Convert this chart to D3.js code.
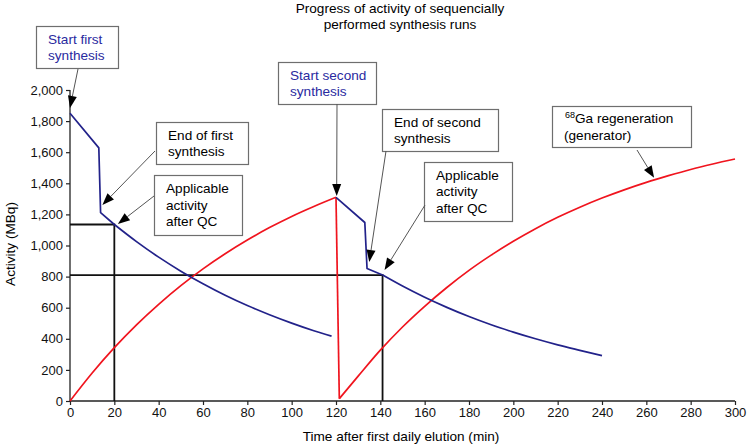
<!DOCTYPE html>
<html>
<head>
<meta charset="utf-8">
<script src="https://cdn.jsdelivr.net/npm/d3@7"></script>
<style>
  html, body { margin: 0; padding: 0; background: #fff; }
  svg { display: block; font-family: "Liberation Sans", Arial, Helvetica, sans-serif; }
</style>
</head>
<body>
<svg id="chart" width="750" height="448"></svg>
<script>
// ---- data ----
const firstRunTime      = [0, 13, 13.8, 20, 30, 40, 50, 60, 70, 80, 90, 100, 110, 118];
const firstRunActivity  = [1850, 1628, 1211, 1135, 1025, 925, 835, 754, 680, 614, 555, 501, 452, 417];
const secondRunTime     = [120, 133, 134, 141, 150, 160, 170, 180, 190, 200, 210, 220, 230, 240];
const secondRunActivity = [1310, 1148, 852, 810, 739, 667, 602, 543, 490, 443, 400, 361, 326, 292];
const generatorTime1     = [0, 10, 20, 30, 40, 50, 60, 70, 80, 90, 100, 110, 120];
const generatorActivity1 = [0, 180, 343, 490, 622, 742, 850, 947, 1035, 1115, 1187, 1251, 1310];
const generatorTime2     = [121.5, 130, 140, 150, 160, 170, 180, 190, 200, 210, 220, 230, 240, 250, 260, 270, 280, 290, 300];
const generatorActivity2 = [15, 160, 327, 476, 609, 730, 840, 938, 1027, 1108, 1181, 1246, 1305, 1358, 1406, 1449, 1489, 1524, 1556];
const qcTime     = [20, 141];
const qcActivity = [1135, 810];
const xTicks = [0, 20, 40, 60, 80, 100, 120, 140, 160, 180, 200, 220, 240, 260, 280, 300];
const yTicks = [0, 200, 400, 600, 800, 1000, 1200, 1400, 1600, 1800, 2000];
const titleLines = ["Progress of activity of sequencially", "performed synthesis runs"];
const xLabel = "Time after first daily elution (min)";
const yLabel = "Activity (MBq)";
// annotations: text + arrow tip in data coordinates
const annoLines  = [["Start first", "synthesis"], ["End of first", "synthesis"], ["Applicable", "activity", "after QC"],
                    ["Start second", "synthesis"], ["End of second", "synthesis"], ["Applicable", "activity", "after QC"],
                    ["Ga regeneration", "(generator)"]];
const annoTipTime     = [0, 14.6, 21.6, 120.3, 135, 141.9, 263.5];
const annoTipActivity = [1885, 1260, 1138, 1318, 894, 842, 1435];

// ---- layout ----
const svg = d3.select("#chart");
const x = d3.scaleLinear().domain([0, 300]).range([70, 735]);
const y = d3.scaleLinear().domain([0, 2000]).range([401, 90]);
const BLUE = "#22228a", RED = "#f0141e", FONT = 13, TFONT = 13.6;

// annotation box layout (pixels)
const boxes = [
  {x: 36,  y: 26,  w: 82,  h: 42, from: [78, 69],   color: "#2a2aa0"},
  {x: 156, y: 122, w: 92,  h: 42, from: [155, 151], color: "#000"},
  {x: 154, y: 175, w: 88,  h: 60, from: [154, 196], color: "#000"},
  {x: 278, y: 62,  w: 98,  h: 42, from: [337, 104], color: "#2a2aa0"},
  {x: 382, y: 109, w: 116, h: 42, from: [386, 151], color: "#000"},
  {x: 424, y: 162, w: 88,  h: 59, from: [425, 205], color: "#000"},
  {x: 552, y: 106, w: 139, h: 41, from: [637, 150], color: "#000"}
];

// title
svg.append("text").attr("x", 400).attr("y", 13).attr("text-anchor", "middle")
  .attr("font-size", TFONT).text(titleLines[0]);
svg.append("text").attr("x", 400).attr("y", 29).attr("text-anchor", "middle")
  .attr("font-size", TFONT).text(titleLines[1]);

// axes
const xAxis = d3.axisBottom(x).tickValues(xTicks).tickSize(4).tickPadding(3).tickFormat(d3.format("d"));
const yAxis = d3.axisLeft(y).tickValues(yTicks).tickSize(4).tickPadding(3).tickFormat(d3.format(","));
const gx = svg.append("g").attr("transform", "translate(0,401)").call(xAxis);
const gy = svg.append("g").attr("transform", "translate(70,0)").call(yAxis);
[gx, gy].forEach(g => {
  g.select(".domain").attr("stroke", "#222").attr("stroke-width", 1.3);
  g.selectAll(".tick line").attr("stroke", "#222").attr("stroke-width", 1.2);
  g.selectAll(".tick text").attr("font-size", FONT).attr("fill", "#111")
    .attr("font-family", "\"Liberation Sans\", Arial, sans-serif");
});
gx.select(".domain").attr("d", "M70,0H735");
gy.select(".domain").attr("d", "M0,401V90");

svg.append("text").attr("x", 401).attr("y", 441).attr("text-anchor", "middle")
  .attr("font-size", TFONT).text(xLabel);
svg.append("text").attr("transform", "translate(15,244) rotate(-90)").attr("text-anchor", "middle")
  .attr("font-size", TFONT).text(yLabel);

// lines
const zip = (ts, as) => ts.map((t, i) => [t, as[i]]);
const lineLin = d3.line().x(d => x(d[0])).y(d => y(d[1]));
const lineSmooth = d3.line().x(d => x(d[0])).y(d => y(d[1])).curve(d3.curveMonotoneX);

const gen1 = zip(generatorTime1, generatorActivity1);
const gen2 = zip(generatorTime2, generatorActivity2);
const run1 = zip(firstRunTime, firstRunActivity);
const run2 = zip(secondRunTime, secondRunActivity);

// QC reference lines
qcTime.forEach((t, i) => {
  const p = "M" + x(0) + "," + y(qcActivity[i]) + "H" + x(t) + "V" + y(0);
  svg.append("path").attr("d", p).attr("fill", "none").attr("stroke", "#111").attr("stroke-width", 1.8);
});

const drawPath = (d, gen, color) => svg.append("path").attr("d", gen(d)).attr("fill", "none")
  .attr("stroke", color).attr("stroke-width", 1.7).attr("stroke-linejoin", "round");

drawPath(gen1, lineSmooth, RED);
drawPath([gen1[gen1.length - 1], gen2[0]], lineLin, RED);
drawPath(gen2, lineSmooth, RED);
drawPath(run1.slice(0, 4), lineLin, BLUE);
drawPath(run1.slice(3), lineSmooth, BLUE);
drawPath(run2.slice(0, 4), lineLin, BLUE);
drawPath(run2.slice(3), lineSmooth, BLUE);

// annotations
boxes.forEach((b, i) => {
  const g = svg.append("g");
  g.append("rect").attr("x", b.x + 0.5).attr("y", b.y + 0.5).attr("width", b.w).attr("height", b.h)
    .attr("fill", "#fff").attr("stroke", "#6e6e6e").attr("stroke-width", 1.2);
  const lines = annoLines[i];
  const lh = 16.5;
  const startY = b.y + b.h / 2 - (lines.length - 1) * lh / 2 + 4.8;
  lines.forEach((ln, j) => {
    const t = g.append("text").attr("x", b.x + 12).attr("y", startY + j * lh)
      .attr("font-size", TFONT).attr("fill", b.color);
    if (i === 6 && j === 0) {
      t.attr("x", b.x + 13);
      t.append("tspan").attr("font-size", 9).attr("dy", -5).text("68");
      t.append("tspan").attr("dy", 5).text(ln);
    } else {
      t.text(ln);
    }
  });
  // arrow
  const tx = x(annoTipTime[i]), ty = y(annoTipActivity[i]);
  const [fx, fy] = b.from;
  const dx = tx - fx, dy = ty - fy, len = Math.hypot(dx, dy);
  const ux = dx / len, uy = dy / len;
  const hl = 12, hw = 4.5;
  const bx = tx - ux * hl, by = ty - uy * hl;
  svg.append("line").attr("x1", fx).attr("y1", fy).attr("x2", bx).attr("y2", by)
    .attr("stroke", "#555").attr("stroke-width", 1);
  svg.append("path")
    .attr("d", "M" + tx + "," + ty + "L" + (bx - uy * hw) + "," + (by + ux * hw) + "L" + (bx + uy * hw) + "," + (by - ux * hw) + "Z")
    .attr("fill", "#000");
});
</script>
</body>
</html>
